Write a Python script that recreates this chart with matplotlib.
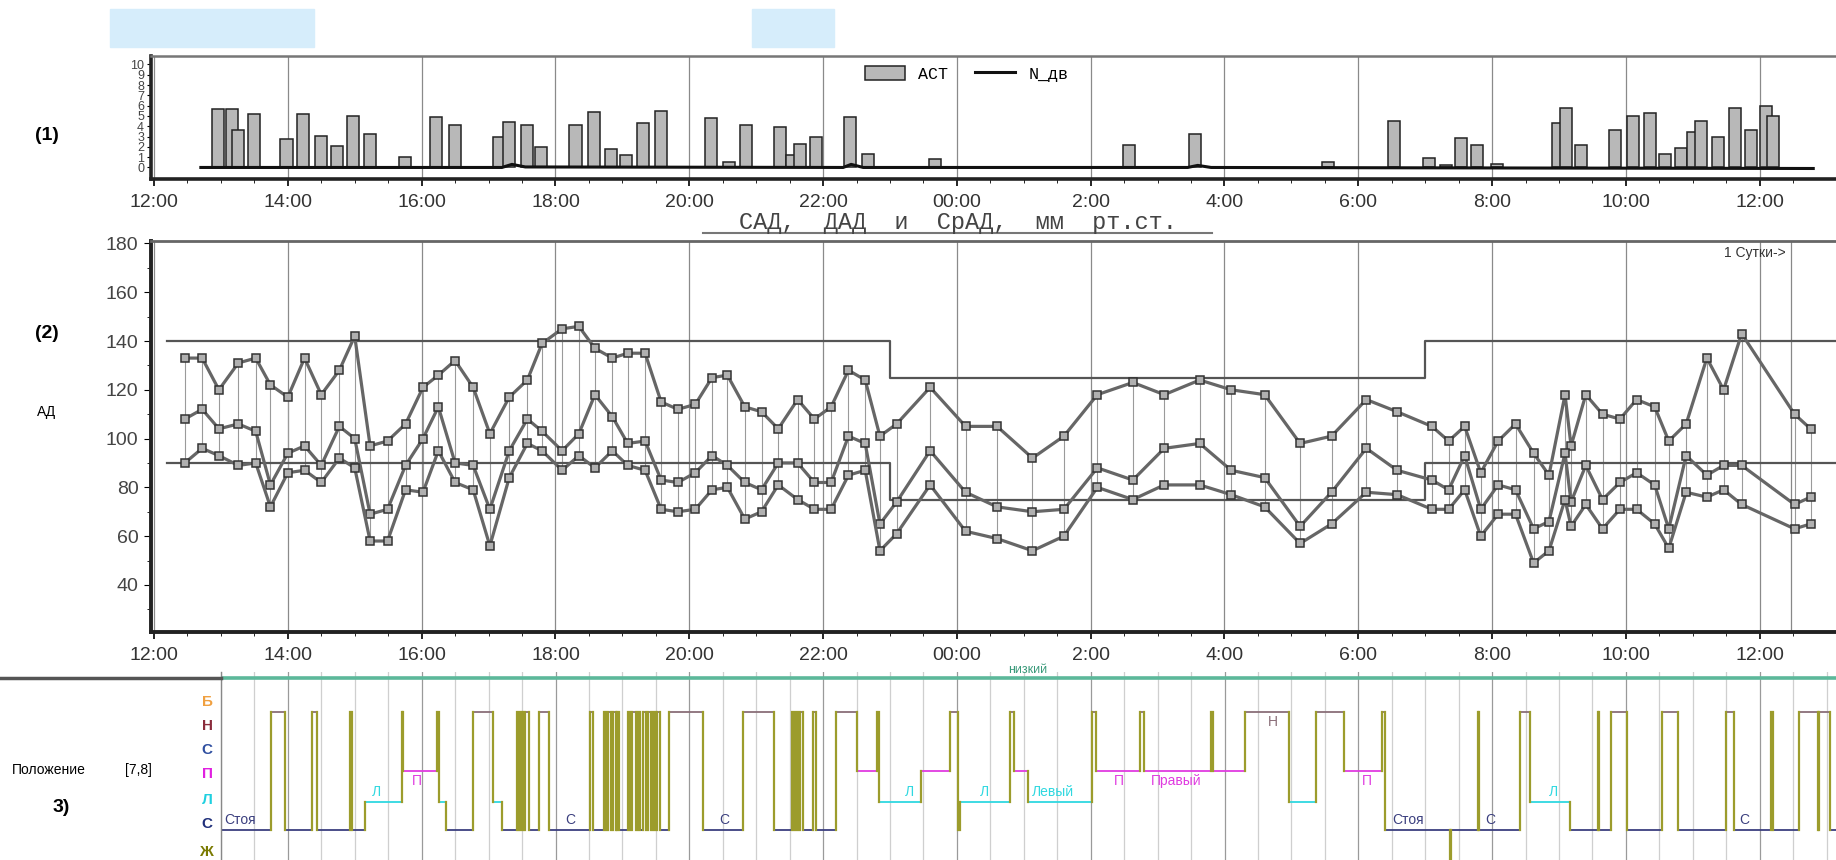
import numpy as np
import matplotlib.pyplot as plt
from matplotlib.lines import Line2D
from matplotlib.patches import Rectangle

plt.rcParams['font.family'] = ['Liberation Sans', 'DejaVu Sans']

# --- activity (top panel) ---
act_t = [12.95, 13.17, 13.25, 13.49, 13.98, 14.23, 14.5, 14.74, 14.97, 15.23, 15.75,
         16.22, 16.5, 17.15, 17.3, 17.57, 17.79, 18.3, 18.57, 18.83, 19.05, 19.31, 19.58,
         20.32, 20.59, 20.85, 21.36, 21.53, 21.66, 21.9, 22.4, 22.67, 23.68,
         26.57, 27.56, 29.54, 30.54, 31.06, 31.31, 31.53, 31.77, 32.07,
         32.98, 33.11, 33.33, 33.83, 34.1, 34.36, 34.59, 34.83, 35.01, 35.12,
         35.37, 35.63, 35.87, 36.1, 36.2]
act_v = [5.7, 5.7, 3.6, 5.2, 2.8, 5.2, 3.05, 2.1, 5.0, 3.2, 1.0,
         4.9, 4.1, 3.0, 4.45, 4.1, 2.0, 4.1, 5.4, 1.8, 1.25, 4.3, 5.5,
         4.8, 0.55, 4.1, 3.9, 1.25, 2.25, 3.0, 4.9, 1.3, 0.8,
         2.15, 3.2, 0.55, 4.55, 0.95, 0.25, 2.85, 2.2, 0.3,
         4.3, 5.75, 2.15, 3.6, 4.95, 5.3, 1.35, 1.9, 3.4, 4.55,
         3.0, 5.8, 3.65, 5.95, 5.0]
ndv_t = [12.7, 17.2, 17.35, 17.55, 22.3, 22.42, 22.6, 27.45, 27.6, 27.8, 36.8]
ndv_v = [0.0, 0.0, 0.3, 0.05, 0.0, 0.3, 0.0, 0.0, 0.2, 0.0, -0.1]

# --- blood pressure (middle panel) ---
bp_t = [12.46, 12.72, 12.97, 13.26, 13.52, 13.74, 14.0, 14.25, 14.5, 14.77, 15.0,
        15.23, 15.49, 15.76, 16.02, 16.25, 16.5, 16.77, 17.02, 17.31, 17.58, 17.8,
        18.1, 18.35, 18.59, 18.85, 19.08, 19.34, 19.58, 19.83, 20.09, 20.34, 20.57,
        20.83, 21.08, 21.33, 21.62, 21.87, 22.12, 22.38, 22.63, 22.85, 23.1, 23.6,
        24.13, 24.6, 25.13, 25.6, 26.1, 26.63, 27.1, 27.63, 28.1, 28.6, 29.13, 29.6,
        30.12, 30.58, 31.1, 31.35, 31.59, 31.83, 32.09, 32.35, 32.62, 32.85, 33.09,
        33.18, 33.4, 33.65, 33.91, 34.16, 34.43, 34.64, 34.9, 35.21, 35.46, 35.73,
        36.52, 36.76]
sbp = [133, 133, 120, 131, 133, 122, 117, 133, 118, 128, 142,
       97, 99, 106, 121, 126, 132, 121, 102, 117, 124, 139,
       145, 146, 137, 133, 135, 135, 115, 112, 114, 125, 126,
       113, 111, 104, 116, 108, 113, 128, 124, 101, 106, 121,
       105, 105, 92, 101, 118, 123, 118, 124, 120, 118, 98, 101,
       116, 111, 105, 99, 105, 86, 99, 106, 94, 85, 118,
       97, 118, 110, 108, 116, 113, 99, 106, 133, 120, 143,
       110, 104]
mbp = [108, 112, 104, 106, 103, 81, 94, 97, 89, 105, 100,
       69, 71, 89, 100, 113, 90, 89, 71, 95, 108, 103,
       95, 102, 118, 109, 98, 99, 83, 82, 86, 93, 89,
       82, 79, 90, 90, 82, 82, 101, 98, 65, 74, 95,
       78, 72, 70, 71, 88, 83, 96, 98, 87, 84, 64, 78,
       96, 87, 83, 79, 93, 71, 81, 79, 63, 66, 94,
       74, 89, 75, 82, 86, 81, 63, 93, 85, 89, 89,
       73, 76]
dbp = [90, 96, 93, 89, 90, 72, 86, 87, 82, 92, 88,
       58, 58, 79, 78, 95, 82, 79, 56, 84, 98, 95,
       87, 93, 88, 95, 89, 87, 71, 70, 71, 79, 80,
       67, 70, 81, 75, 71, 71, 85, 87, 54, 61, 81,
       62, 59, 54, 60, 80, 75, 81, 81, 77, 72, 57, 65,
       78, 77, 71, 71, 79, 60, 69, 69, 49, 54, 75,
       64, 73, 63, 71, 71, 65, 55, 78, 76, 79, 73,
       63, 65]
thr_t = [12.2, 23.0, 31.0, 37.2]
thr_hi = [140, 125, 140, 140]
thr_lo = [90, 75, 90, 90]

# --- body position (bottom panel) ---
pos_t = [13.00, 13.75, 13.95, 14.36, 14.43, 14.93, 14.96, 15.15, 15.70, 15.72, 16.23, 16.26,
         16.36, 16.76, 17.07, 17.20, 17.42, 17.45, 17.48, 17.52, 17.55, 17.60, 17.76, 17.90,
         18.51, 18.56, 18.73, 18.76, 18.79, 18.83, 18.86, 18.90, 18.92, 18.95, 19.08, 19.12,
         19.15, 19.20, 19.24, 19.27, 19.31, 19.35, 19.38, 19.42, 19.45, 19.49, 19.52, 19.56,
         19.70, 20.20, 20.80, 21.26, 21.53, 21.56, 21.59, 21.63, 21.66, 21.70, 21.85, 21.90,
         22.20, 22.50, 22.80, 22.83, 23.46, 23.90, 24.02, 24.05, 24.80, 24.86, 25.06, 26.02,
         26.08, 26.73, 26.80, 27.80, 27.83, 28.30, 28.97, 29.37, 29.79, 30.35, 30.40, 31.37,
         31.39, 31.79, 31.81, 32.41, 32.57, 33.16, 33.58, 33.60, 33.78, 34.02, 34.54, 34.78,
         35.50, 35.61, 36.17, 36.20, 36.58, 36.87, 36.89, 37.05]
pos_s = ['С', 'Н', 'С', 'Н', 'С', 'Н', 'С', 'Л', 'Н', 'П', 'Н', 'Л',
         'С', 'Н', 'Л', 'С', 'Н', 'С', 'Н', 'С', 'Н', 'С', 'Н', 'С',
         'Н', 'С', 'Н', 'С', 'Н', 'С', 'Н', 'С', 'Н', 'С', 'Н', 'С',
         'Н', 'С', 'Н', 'С', 'Н', 'С', 'Н', 'С', 'Н', 'С', 'Н', 'С',
         'Н', 'С', 'Н', 'С', 'Н', 'С', 'Н', 'С', 'Н', 'С', 'Н', 'С',
         'Н', 'П', 'Н', 'Л', 'П', 'Н', 'С', 'Л', 'Н', 'П', 'Л', 'Н',
         'П', 'Н', 'П', 'Н', 'П', 'Н', 'Л', 'Н', 'П', 'Н', 'С', 'Ж',
         'С', 'Н', 'С', 'Н', 'Л', 'С', 'Н', 'С', 'Н', 'С', 'Н', 'С',
         'Н', 'С', 'Н', 'С', 'Н', 'С', 'Н', 'С']
pos_labels = [(13.05, 'С', 'Стоя'), (15.25, 'Л', 'Л'), (15.85, 'П', 'П'), (18.15, 'С', 'С'),
              (20.45, 'С', 'С'), (23.22, 'Л', 'Л'), (24.35, 'Л', 'Л'), (25.12, 'Л', 'Левый'),
              (26.35, 'П', 'П'), (26.9, 'П', 'Правый'), (28.65, 'Н', 'Н'), (30.05, 'П', 'П'),
              (30.5, 'С', 'Стоя'), (31.9, 'С', 'С'), (32.85, 'Л', 'Л'), (35.7, 'С', 'С')]
axis_letters = ['Ж', 'С', 'Л', 'П', 'С', 'Н', 'Б']
axis_letter_colors = ['#7a7a00', '#1f2f7a', '#1fd0e0', '#e020e0', '#2f4fa0', '#8a2c3c', '#f0a040']

level = {'С': 0.8, 'Л': 1.93, 'П': 3.17, 'Н': 5.53, 'Ж': -0.5}
seg_col = {'С': '#3b3f7f', 'Л': '#2fd8e0', 'П': '#e03ce0', 'Н': '#8a6e78', 'Ж': '#9c9c2c'}
olive = '#9c9c2c'


def hlabel(h):
    h = int(h) % 24
    return '00:00' if h == 0 else f'{h}:00'


W, H = 1836, 860
fig = plt.figure(figsize=(W / 100, H / 100), dpi=100)
x0, x1 = 11.955, 37.14
major = np.arange(12, 37, 2)

# ---------- top panel ----------
ax1 = fig.add_axes([151 / W, 1 - 179 / H, 1 - 151 / W, 123 / H])
bars = ax1.bar(act_t, act_v, width=0.18, color='#b8b8b8', edgecolor='#222222', linewidth=1.1,
               label='АСТ', zorder=3)
ndv_line, = ax1.plot(ndv_t, ndv_v, color='#111111', lw=2.2, label='N_дв', zorder=4)
ax1.set_xlim(x0, x1)
ax1.set_ylim(-1.12, 10.82)
ax1.set_yticks(range(0, 11))
ax1.set_yticklabels([str(i) for i in range(11)], fontsize=9, color='#444')
ax1.set_xticks(major)
ax1.set_xticklabels([hlabel(h) for h in major], fontsize=14, color='#333')
ax1.set_xticks(np.arange(12, 37, 0.5), minor=True)
ax1.grid(axis='x', which='major', color='#8a8a8a', lw=0.9, zorder=0)
for s in ['left', 'bottom']:
    ax1.spines[s].set_linewidth(2.6)
    ax1.spines[s].set_color('#222')
ax1.spines['top'].set_color('#777')
ax1.spines['top'].set_linewidth(1.8)
ax1.spines['right'].set_visible(False)
ax1.tick_params(axis='x', length=5, width=1.2, pad=6)
ax1.tick_params(axis='x', which='minor', length=3)
ax1.tick_params(axis='y', length=3, pad=2)
ax1.legend([bars, ndv_line], ['АСТ', 'N_дв'], loc='upper center',
           bbox_to_anchor=(0.484, 1.04), ncol=2, frameon=False,
           prop={'family': 'Liberation Mono', 'size': 12}, handlelength=2.4,
           columnspacing=1.6, handleheight=0.9)

# ---------- middle panel ----------
ax2 = fig.add_axes([151 / W, 1 - 632 / H, 1 - 151 / W, 391 / H])
for t, lo, hi in zip(bp_t, dbp, sbp):
    ax2.plot([t, t], [lo, hi], color='#9a9a9a', lw=0.8, zorder=2)
ax2.plot(thr_t, thr_hi, drawstyle='steps-post', color='#555', lw=1.6, zorder=2)
ax2.plot(thr_t, thr_lo, drawstyle='steps-post', color='#555', lw=1.6, zorder=2)
for ser in (sbp, mbp, dbp):
    ax2.plot(bp_t, ser, color='#666666', lw=2.3, marker='s', markersize=6,
             markerfacecolor='#b0b0b0', markeredgecolor='#333', markeredgewidth=1.1, zorder=3)
ax2.axvline(36.46, color='#888', lw=0.9, zorder=1)
ax2.text(36.38, 176, '1 Сутки->', fontsize=10, ha='right', va='center', color='#333')
ax2.set_xlim(x0, x1)
ax2.set_ylim(20.7, 181)
ax2.set_yticks(range(40, 181, 20))
ax2.set_yticks(range(30, 181, 10), minor=True)
ax2.set_xticks(major)
ax2.set_xticklabels([hlabel(h) for h in major], fontsize=14, color='#333')
ax2.set_xticks(np.arange(12, 37, 0.5), minor=True)
ax2.tick_params(axis='y', labelsize=14, labelcolor='#444', length=5, pad=4)
ax2.tick_params(axis='y', which='minor', length=3)
ax2.tick_params(axis='x', length=5, width=1.2, pad=6)
ax2.tick_params(axis='x', which='minor', length=3)
ax2.grid(axis='x', which='major', color='#8a8a8a', lw=0.9, zorder=0)
for s in ['left', 'bottom']:
    ax2.spines[s].set_linewidth(2.8)
    ax2.spines[s].set_color('#222')
ax2.spines['top'].set_color('#666')
ax2.spines['top'].set_linewidth(2.0)
ax2.spines['right'].set_visible(False)

fig.text(958 / W, 1 - 222 / H, 'САД,  ДАД  и  СрАД,  мм  рт.ст.', family='Liberation Mono',
         fontsize=17, ha='center', va='center', color='#444')
fig.add_artist(Line2D([703 / W, 1212 / W], [1 - 233 / H] * 2, color='#777', lw=1.5))

# ---------- bottom panel ----------
ax3 = fig.add_axes([221 / W, 0, 1 - 221 / W, 188 / H])
ax3.set_xlim(13.0, x1)
ax3.set_ylim(-0.4, 7.12)
for g in np.arange(13.0, 37.1, 0.5):
    ax3.axvline(g, color='#9a9a9a' if g % 2 == 0 else '#cfcfcf', lw=0.9, zorder=0)
ax3.axhline(6.88, color='#5cb89a', lw=2.6, zorder=1)
ax3.text(25.06, 6.95, 'низкий', color='#3a9a7a', fontsize=9, ha='center', va='bottom')
n = len(pos_t)
for i in range(n):
    ta = pos_t[i]
    tb = pos_t[i + 1] if i + 1 < n else x1
    s = pos_s[i]
    ax3.plot([ta, tb], [level[s], level[s]], color=seg_col[s], lw=1.3, zorder=2)
    if i + 1 < n:
        ax3.plot([tb, tb], [level[s], level[pos_s[i + 1]]], color=olive, lw=1.6, zorder=3)
for t, s, txt in pos_labels:
    below = s in ('П', 'Н')
    ax3.text(t, level[s] - 0.12 if below else level[s] + 0.12, txt, color=seg_col[s],
             fontsize=10, ha='left', va='top' if below else 'bottom')
ax3.set_xticks([])
ax3.set_yticks([0, 1.08, 2.08, 3.08, 4.04, 5.04, 6.0])
ax3.set_yticklabels(axis_letters, fontsize=11, fontweight='bold')
for lab, c in zip(ax3.get_yticklabels(), axis_letter_colors):
    lab.set_color(c)
ax3.tick_params(axis='y', length=0, pad=6)
for s in ['top', 'right', 'bottom']:
    ax3.spines[s].set_visible(False)
ax3.spines['left'].set_color('#888')
ax3.spines['left'].set_linewidth(1.0)
fig.add_artist(Line2D([0, 221 / W], [1 - 678 / H] * 2, color='#555', lw=2.5))

# ---------- side labels ----------
fig.text(47 / W, 1 - 136 / H, '(1)', fontsize=14, fontweight='bold', ha='center', va='center')
fig.text(47 / W, 1 - 334 / H, '(2)', fontsize=14, fontweight='bold', ha='center', va='center')
fig.text(47 / W, 1 - 412 / H, 'АД', fontsize=10, ha='center', va='center')
fig.text(12 / W, 1 - 770 / H, 'Положение', fontsize=10, ha='left', va='center')
fig.text(125 / W, 1 - 770 / H, '[7,8]', fontsize=10, ha='left', va='center')
fig.text(61 / W, 1 - 808 / H, '3)', fontsize=14, fontweight='bold', ha='center', va='center')

fig.add_artist(Rectangle((110 / W, 1 - 47 / H), 204 / W, 38 / H, color='#d6edfb'))
fig.add_artist(Rectangle((752 / W, 1 - 47 / H), 82 / W, 38 / H, color='#d6edfb'))

fig.savefig('out.png', dpi=100)
